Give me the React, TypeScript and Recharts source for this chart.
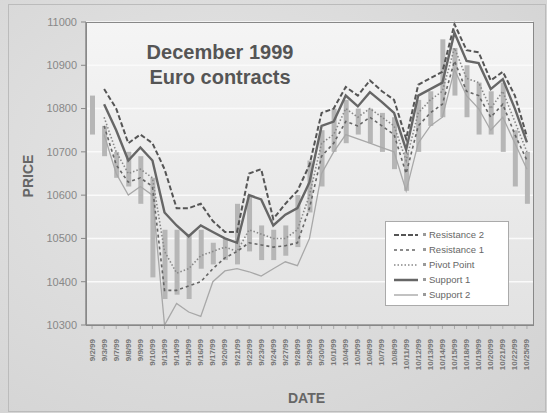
import { ComposedChart, Bar, Line, XAxis, YAxis, CartesianGrid } from "recharts";

const dates = [
  "9/2/99", "9/3/99", "9/7/99", "9/8/99", "9/9/99", "9/10/99", "9/13/99", "9/14/99", "9/15/99",
  "9/16/99", "9/17/99", "9/20/99", "9/21/99", "9/22/99", "9/23/99", "9/24/99", "9/27/99", "9/28/99",
  "9/29/99", "9/30/99", "10/1/99", "10/4/99", "10/5/99", "10/6/99", "10/7/99", "10/8/99", "10/11/99",
  "10/12/99", "10/13/99", "10/14/99", "10/15/99", "10/18/99", "10/19/99", "10/20/99", "10/21/99",
  "10/22/99", "10/25/99",
];

const highs = [
  10830, 10760, 10700, 10700, 10690, 10640, 10520, 10520, 10510, 10520, 10490, 10500, 10580, 10600,
  10530, 10520, 10530, 10600, 10680, 10750, 10800, 10820, 10800, 10800, 10790, 10780, 10700, 10820,
  10840, 10960, 10940, 10900, 10860, 10840, 10860, 10750, 10700,
];
const lows = [
  10740, 10690, 10640, 10620, 10580, 10410, 10360, 10370, 10360, 10430, 10440, 10450, 10440, 10470,
  10450, 10450, 10460, 10480, 10560, 10620, 10700, 10720, 10740, 10720, 10700, 10660, 10610, 10700,
  10760, 10780, 10830, 10780, 10740, 10740, 10700, 10620, 10580,
];

const resistance2 = [
  null, 10845, 10800, 10720, 10740, 10720, 10660, 10570, 10570, 10580, 10540, 10515, 10515, 10650,
  10660, 10545, 10580, 10610, 10670, 10790, 10800, 10850, 10830, 10865, 10840, 10820, 10730, 10855,
  10870, 10885, 10995, 10935, 10930, 10865, 10885, 10830, 10735,
];
const support1 = [
  null, 10810, 10750, 10680, 10710, 10680, 10560, 10530, 10505, 10530, 10515, 10500, 10490, 10600,
  10590, 10530, 10555, 10570, 10630, 10760, 10770, 10830, 10805, 10838, 10815, 10790, 10705, 10830,
  10845, 10860, 10975, 10910, 10905, 10845, 10868, 10800, 10722,
];
const pivotPoint = [
  null, 10780, 10700, 10650, 10660, 10640, 10470, 10420, 10430, 10460, 10470, 10480, 10470, 10520,
  10510, 10500, 10500, 10520, 10600, 10720, 10740, 10800, 10780, 10800, 10780, 10760, 10680, 10790,
  10820, 10840, 10940, 10870, 10860, 10800, 10840, 10770, 10700,
];
const resistance1 = [
  null, 10760, 10670, 10630, 10640, 10620, 10380, 10380, 10390, 10400, 10430, 10455, 10470, 10490,
  10485, 10480, 10483, 10490, 10570, 10690, 10720, 10770, 10760, 10780, 10760, 10740, 10650, 10760,
  10790, 10810, 10910, 10840, 10830, 10780, 10810, 10740, 10680,
];
const support2 = [
  null, 10740, 10650, 10600, 10620, 10600, 10300, 10350, 10330, 10320, 10400, 10425, 10430, 10423,
  10413, 10430, 10446, 10437, 10500, 10650, 10700, 10740, 10730, 10720, 10710, 10700, 10610, 10720,
  10760, 10780, 10890, 10830, 10800, 10750, 10780, 10720, 10660,
];

const priceTicks = [10300, 10400, 10500, 10600, 10700, 10800, 10900, 11000];

const data = dates.map((d, i) => ({
  date: d,
  range: [lows[i], highs[i]],
  r2: resistance2[i],
  r1: resistance1[i],
  pp: pivotPoint[i],
  s1: support1[i],
  s2: support2[i],
}));

const legendItems = [
  { name: "Resistance 2", color: "#555", dash: "5 2", width: 2 },
  { name: "Resistance 1", color: "#666", dash: "3 3", width: 1.5 },
  { name: "Pivot Point", color: "#888", dash: "1.5 2", width: 1.5 },
  { name: "Support 1", color: "#666", dash: undefined, width: 2.5 },
  { name: "Support 2", color: "#999", dash: undefined, width: 1.2 },
];

function LegendBox() {
  return (
    <div style={{ position: "absolute", left: 385, top: 221, background: "#fff", border: "1px solid #aaa", padding: "5px 6px 3px 8px", width: 108 }}>
      {legendItems.map((it) => (
        <div key={it.name} style={{ display: "flex", alignItems: "center", height: 15, fontSize: 9.5, color: "#666" }}>
          <svg width={26} height={8}>
            <line x1={0} y1={4} x2={24} y2={4} stroke={it.color} strokeWidth={it.width} strokeDasharray={it.dash} />
          </svg>
          <span style={{ display: "inline-block", width: 3, height: 3, background: "#999", margin: "0 3px 0 3px" }} />
          {it.name}
        </div>
      ))}
    </div>
  );
}

function DateTick(props: any) {
  const { x, y, payload } = props;
  return (
    <text
      x={x}
      y={y + 8}
      transform={`rotate(-90 ${x} ${y + 8})`}
      textAnchor="end"
      dominantBaseline="central"
      fontSize={8}
      fontWeight="bold"
      fill="#777"
      fontFamily="Liberation Sans, Arial"
    >
      {payload.value}
    </text>
  );
}

export default function App() {
  return (
    <div style={{ position: "absolute", left: 0, top: 0, width: 547, height: 413, background: "radial-gradient(ellipse at 40% 40%, #e6e6e6, #d2d2d2)", fontFamily: "Liberation Sans, Arial" }}>
      <div style={{ position: "absolute", left: 8, top: 4, width: 536, height: 406, border: "1px solid #bbb" }} />
      <div style={{ position: "absolute", left: 0, top: 0 }}>
        <ComposedChart width={547} height={413} data={data} margin={{ top: 22, right: 14, bottom: 0, left: 0 }} barGap={0}>
          <defs>
            <linearGradient id="plotBg" x1="0" y1="0" x2="0" y2="1">
              <stop offset="0%" stopColor="#f5f5f5" />
              <stop offset="100%" stopColor="#e2e2e2" />
            </linearGradient>
          </defs>
          <CartesianGrid vertical={false} stroke="#fafafa" strokeWidth={1.5} fill="url(#plotBg)" fillOpacity={1} />
          <XAxis
            dataKey="date"
            height={88}
            interval={0}
            tick={<DateTick />}
            tickLine={{ stroke: "#aaa" }}
            tickSize={4}
            axisLine={{ stroke: "#888", strokeWidth: 1.5 }}
          />
          <YAxis
            width={86}
            domain={[10300, 11000]}
            ticks={priceTicks}
            interval={0}
            tick={{ fontSize: 11, fill: "#888", fontFamily: "Liberation Sans, Arial" }}
            tickLine={{ stroke: "#888" }}
            tickSize={5}
            tickMargin={4}
            axisLine={{ stroke: "#888", strokeWidth: 1.5 }}
          />
          <Bar dataKey="range" fill="#b6b6b6" barSize={5} isAnimationActive={false} />
          <Line dataKey="s2" type="linear" stroke="#a8a8a8" strokeWidth={1.3} dot={false} isAnimationActive={false} />
          <Line dataKey="r1" type="linear" stroke="#666" strokeWidth={1.6} strokeDasharray="3 3" dot={false} isAnimationActive={false} />
          <Line dataKey="pp" type="linear" stroke="#888" strokeWidth={1.6} strokeDasharray="1.5 2" dot={false} isAnimationActive={false} />
          <Line dataKey="s1" type="linear" stroke="#666" strokeWidth={2.4} dot={false} isAnimationActive={false} />
          <Line dataKey="r2" type="linear" stroke="#555" strokeWidth={2} strokeDasharray="5 2.5" dot={false} isAnimationActive={false} />
        </ComposedChart>
      </div>
      <div style={{ position: "absolute", left: 86, top: 22, width: 446, height: 302, border: "1px solid #888", pointerEvents: "none" }} />
      <div style={{ position: "absolute", left: 120, top: 40, width: 200, textAlign: "center", fontSize: 20, fontWeight: "bold", color: "#555", lineHeight: "25px" }}>
        December 1999
        <br />
        Euro contracts
      </div>
      <div style={{ position: "absolute", left: 6, top: 168, transform: "rotate(-90deg)", fontSize: 14, fontWeight: "bold", color: "#666", width: 44, textAlign: "center" }}>
        PRICE
      </div>
      <div style={{ position: "absolute", left: 288, top: 390, fontSize: 14, fontWeight: "bold", color: "#666" }}>DATE</div>
      <LegendBox />
    </div>
  );
}
